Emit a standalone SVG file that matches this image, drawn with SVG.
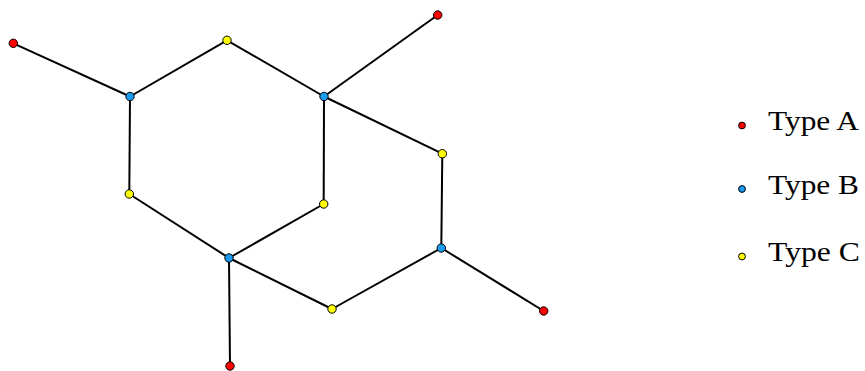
<svg xmlns="http://www.w3.org/2000/svg" width="865" height="371" viewBox="0 0 865 371">
<style>
.e{stroke:#000;stroke-width:2;fill:none}
.n{stroke:#000;stroke-width:1}
.a{fill:#ff0000}
.b{fill:#1a9bf0}
.c{fill:#ffff00}
.t{font-family:"Liberation Serif","DejaVu Serif",serif;font-size:28px;fill:#000}
</style>
<rect width="865" height="371" fill="#fff"/>
<g id="edges">
<line class="e" x1="13.3" y1="43.3" x2="130" y2="96.5"/>
<line class="e" x1="130" y1="96.5" x2="227" y2="40.3"/>
<line class="e" x1="227" y1="40.3" x2="324" y2="96.5"/>
<line class="e" x1="324" y1="96.5" x2="437.7" y2="15"/>
<line class="e" x1="324" y1="96.5" x2="442.3" y2="153.7"/>
<line class="e" x1="442.3" y1="153.7" x2="441.3" y2="248"/>
<line class="e" x1="441.3" y1="248" x2="543.7" y2="311"/>
<line class="e" x1="441.3" y1="248" x2="332" y2="309"/>
<line class="e" x1="332" y1="309" x2="229" y2="258"/>
<line class="e" x1="229" y1="258" x2="230" y2="366"/>
<line class="e" x1="229" y1="258" x2="129.3" y2="194"/>
<line class="e" x1="129.3" y1="194" x2="130" y2="96.5"/>
<line class="e" x1="229" y1="258" x2="323.7" y2="204"/>
<line class="e" x1="323.7" y1="204" x2="324" y2="96.5"/>
</g>
<g id="nA1"><circle class="n a" cx="13.3" cy="43.3" r="4.2"/></g>
<g id="nA2"><circle class="n a" cx="437.7" cy="15" r="4.2"/></g>
<g id="nA3"><circle class="n a" cx="543.7" cy="311" r="4.2"/></g>
<g id="nA4"><circle class="n a" cx="230" cy="366" r="4.2"/></g>
<g id="nB1"><circle class="n b" cx="130" cy="96.5" r="4.2"/></g>
<g id="nB2"><circle class="n b" cx="324" cy="96.5" r="4.2"/></g>
<g id="nB3"><circle class="n b" cx="229" cy="258" r="4.2"/></g>
<g id="nB4"><circle class="n b" cx="441.3" cy="248" r="4.2"/></g>
<g id="nC1"><circle class="n c" cx="227" cy="40.3" r="4.2"/></g>
<g id="nC2"><circle class="n c" cx="442.3" cy="153.7" r="4.2"/></g>
<g id="nC3"><circle class="n c" cx="129.3" cy="194" r="4.2"/></g>
<g id="nC4"><circle class="n c" cx="323.7" cy="204" r="4.2"/></g>
<g id="nC5"><circle class="n c" cx="332" cy="309" r="4.2"/></g>
<g id="legend">
<circle class="n a" cx="742" cy="125.5" r="3.4"/>
<text class="t" x="768" y="129.5" textLength="91" lengthAdjust="spacingAndGlyphs">Type A</text>
<circle class="n b" cx="742" cy="189" r="3.4"/>
<text class="t" x="768" y="194" textLength="91" lengthAdjust="spacingAndGlyphs">Type B</text>
<circle class="n c" cx="742" cy="256.5" r="3.4"/>
<text class="t" x="768" y="261" textLength="92" lengthAdjust="spacingAndGlyphs">Type C</text>
</g>
</svg>
